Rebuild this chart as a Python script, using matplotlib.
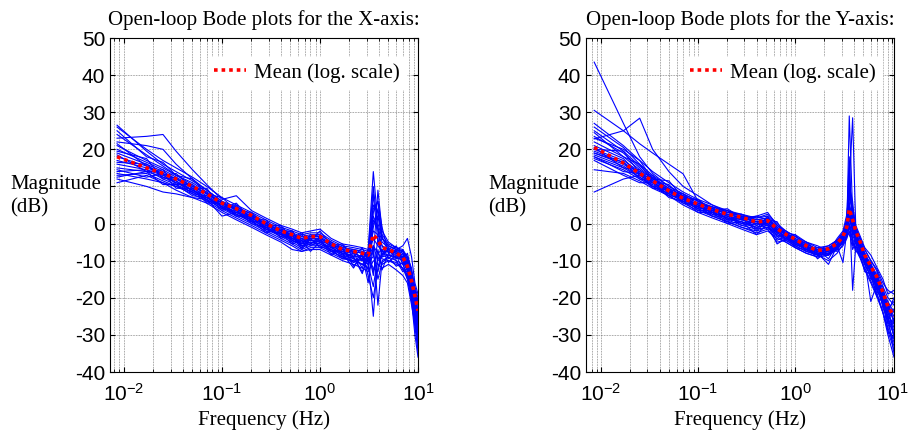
import matplotlib.pyplot as plt
from matplotlib.ticker import LogLocator, NullFormatter, MultipleLocator, FuncFormatter

plt.rcParams['font.family'] = ['Liberation Sans', 'DejaVu Sans']
plt.rcParams['axes.unicode_minus'] = False
serif = ['Liberation Serif', 'DejaVu Serif']

# frequency points (Hz) used for the X-axis runs
freq_x = [0.0085, 0.017, 0.025, 0.034, 0.05, 0.07, 0.1, 0.14, 0.2, 0.28, 0.4, 0.52, 0.65, 0.8, 1.0,
          1.3, 1.7, 2.2, 2.7, 3.1, 3.5, 3.9, 4.3, 5.0, 6.0, 7.0, 7.8, 8.6, 9.3, 10.0]

# magnitude of each X-axis run (dB)
runs_x = [
    [26.5, 19.5, 16.0, 14.0, 11.5, 9.0, 6.0, 4.5, 2.5, 0.5, -1.5, -2.5, -3.5, -3.0, -3.0, -5.0, -6.5, -7.0, -7.5, -8.0, 2.0, -1.0, -5.0, -6.5, -7.5, -8.5, -10.5, -15.0, -20.0, -24.0],
    [26.0, 20.0, 17.0, 15.0, 12.5, 10.0, 7.0, 5.0, 3.0, 1.0, -1.0, -2.0, -3.0, -2.5, -2.5, -4.5, -6.0, -6.5, -7.0, -7.5, 5.0, 3.0, -3.0, -5.5, -6.5, -7.5, -9.5, -13.0, -18.0, -21.0],
    [24.0, 18.5, 15.5, 13.0, 11.0, 8.5, 5.5, 4.0, 2.0, 0.0, -2.0, -3.0, -4.0, -3.5, -3.5, -5.5, -7.0, -7.5, -8.0, -9.0, -4.0, -6.0, -7.5, -7.5, -8.5, -9.5, -12.0, -16.0, -22.0, -28.0],
    [23.0, 23.5, 24.0, 19.5, 14.5, 10.5, 6.5, 7.5, 3.5, 1.5, -0.5, -1.5, -2.5, -2.0, -1.5, -4.0, -5.5, -6.0, -6.5, -7.0, 14.0, 0.0, -4.0, -6.0, -7.0, -8.0, -10.0, -14.0, -19.0, -22.0],
    [22.0, 21.0, 20.0, 16.0, 12.0, 9.0, 6.0, 3.5, 1.5, -0.5, -2.5, -3.5, -4.5, -4.0, -4.0, -6.0, -7.5, -8.0, -9.0, -10.0, -9.0, 9.0, -2.0, -5.0, -6.5, -7.0, -9.0, -13.0, -17.0, -20.0],
    [21.0, 17.0, 15.0, 13.0, 10.5, 8.0, 5.5, 4.0, 2.0, 0.0, -2.0, -3.5, -4.5, -4.0, -4.5, -6.0, -7.5, -9.0, -8.5, -16.0, -6.0, -10.0, -9.0, -8.5, -9.0, -10.0, -13.0, -18.0, -26.0, -33.0],
    [20.0, 16.5, 14.5, 12.5, 10.0, 8.0, 5.5, 3.5, 1.5, -0.5, -2.5, -4.0, -5.0, -4.5, -5.0, -6.5, -8.0, -8.5, -9.5, -10.0, -25.0, -8.0, -7.0, -7.5, -8.0, -9.0, -11.0, -15.0, -20.0, -25.0],
    [19.0, 16.0, 14.0, 12.0, 9.5, 7.5, 5.0, 3.0, 1.0, -1.0, -3.0, -4.5, -5.5, -5.0, -5.5, -7.0, -8.0, -12.0, -8.0, -9.5, -6.0, -22.0, -10.0, -9.0, -10.0, -11.0, -14.0, -19.0, -24.0, -30.0],
    [18.0, 15.5, 13.5, 11.5, 9.0, 7.0, 4.5, 2.5, 0.5, -1.5, -3.5, -5.0, -6.5, -5.5, -6.0, -7.5, -9.0, -10.0, -11.0, -12.0, 8.0, -5.0, -8.0, -8.5, -9.0, -10.0, -12.5, -17.0, -24.0, -35.0],
    [17.0, 15.0, 13.5, 12.0, 10.0, 8.0, 5.5, 4.0, 2.0, 0.0, -2.0, -3.0, -4.0, -3.5, -3.0, -5.0, -6.5, -7.0, -7.5, -8.5, -2.0, -3.0, -6.0, -7.0, -8.0, -9.0, -11.0, -15.0, -20.0, -23.0],
    [16.0, 14.5, 13.0, 11.0, 9.0, 7.0, 5.0, 3.0, 1.0, -1.0, -3.0, -4.0, -5.5, -4.5, -5.0, -6.5, -8.0, -9.0, -13.0, -9.0, -12.0, -13.0, -8.0, -7.5, -8.0, -9.0, -12.0, -16.0, -21.0, -27.0],
    [15.0, 14.0, 12.5, 11.0, 9.0, 7.0, 4.5, 2.5, 0.5, -1.5, -3.0, -4.5, -6.0, -5.0, -5.5, -7.0, -8.5, -9.5, -10.0, -11.0, 4.0, 6.0, -4.0, -6.0, -7.0, -6.0, -4.0, -9.0, -16.0, -19.0],
    [14.0, 14.5, 12.0, 10.5, 8.5, 6.5, 4.0, 2.0, 0.0, -2.0, -4.0, -5.5, -7.0, -6.0, -6.0, -7.5, -9.0, -10.5, -9.5, -11.0, -17.0, -9.0, -11.0, -10.0, -10.5, -12.0, -15.0, -21.0, -30.0, -36.0],
    [13.0, 13.5, 11.5, 10.0, 8.0, 6.0, 3.5, 1.5, -0.5, -2.5, -4.5, -6.0, -7.5, -6.5, -6.5, -8.0, -9.5, -10.0, -11.0, -12.0, -6.0, -8.0, -9.5, -10.0, -11.0, -12.0, -14.0, -19.0, -25.0, -30.0],
    [12.0, 10.0, 8.5, 8.0, 7.0, 5.5, 3.0, 1.0, -1.0, -3.0, -5.0, -7.0, -7.5, -7.0, -7.0, -8.5, -10.0, -11.0, -12.0, -13.0, -10.0, -11.0, -12.0, -11.0, -12.5, -14.0, -16.0, -22.0, -27.0, -32.0],
    [11.0, 13.0, 11.0, 10.0, 8.5, 6.5, 2.0, 3.0, 1.5, -0.5, -2.5, -4.0, -5.0, -4.0, -4.0, -5.5, -7.0, -7.5, -8.0, -8.5, 0.0, 2.0, -4.0, -6.0, -7.0, -7.5, -9.0, -12.0, -18.0, -21.0],
    [25.0, 18.0, 16.5, 13.0, 12.0, 8.0, 7.0, 3.5, 3.0, -0.5, -0.5, -4.0, -2.5, -4.5, -2.0, -6.0, -5.5, -9.0, -6.5, -10.0, 3.0, 6.0, -1.0, -8.0, -6.0, -10.0, -9.0, -17.0, -18.0, -26.0],
    [21.5, 15.5, 13.0, 13.5, 9.5, 9.5, 4.0, 5.5, 1.0, 1.0, -3.0, -2.0, -5.5, -3.0, -5.0, -5.0, -8.5, -7.0, -10.0, -7.0, -14.0, -4.0, -9.0, -6.5, -9.5, -8.0, -12.5, -14.0, -23.0, -29.0],
    [19.5, 17.5, 12.0, 12.5, 8.5, 8.5, 4.5, 4.5, 2.5, -1.0, -1.0, -4.5, -3.0, -5.5, -3.5, -6.5, -6.0, -8.0, -12.0, -7.5, 10.0, -2.0, -6.0, -9.5, -7.0, -11.0, -10.0, -16.0, -21.0, -24.0],
    [18.5, 14.0, 14.5, 10.5, 10.5, 6.0, 6.0, 2.0, 2.5, -1.5, -2.0, -2.0, -6.5, -3.5, -4.5, -7.5, -7.0, -10.5, -8.0, -14.0, -20.0, -12.0, -7.0, -10.5, -8.5, -12.5, -13.0, -20.0, -28.0, -34.0],
    [16.5, 16.0, 12.5, 11.5, 8.0, 7.5, 3.5, 5.0, 0.5, 0.5, -4.0, -3.0, -7.0, -4.0, -6.5, -6.0, -9.0, -8.0, -9.0, -12.5, -1.0, 4.0, -3.5, -8.0, -7.5, -9.5, -8.0, -13.0, -19.0, -22.0],
    [14.5, 12.5, 13.5, 9.5, 9.5, 5.5, 5.5, 2.5, 1.0, -2.5, -1.5, -5.0, -4.0, -6.0, -4.5, -7.5, -7.5, -9.5, -11.0, -9.0, -8.0, -15.0, -10.5, -9.0, -11.5, -10.5, -15.0, -18.0, -26.0, -31.0],
    [13.5, 12.0, 11.0, 9.0, 7.0, 6.5, 4.0, 3.5, 0.0, -1.0, -3.5, -3.0, -6.0, -5.5, -4.0, -8.5, -6.5, -11.5, -8.5, -10.5, 1.0, -1.5, -8.5, -7.0, -9.5, -7.0, -11.0, -14.5, -20.0, -27.0],
    [12.5, 14.0, 10.5, 10.5, 7.5, 7.0, 4.5, 2.0, 2.0, -2.0, -2.5, -5.5, -4.5, -7.5, -5.0, -7.0, -9.5, -9.0, -13.5, -8.5, -13.0, -7.0, -12.5, -8.0, -10.0, -13.0, -12.0, -21.0, -24.0, -33.0],
]
mean_x = [18.0, 15.0, 13.5, 12.0, 10.0, 8.0, 5.5, 4.0, 2.2, 0.0, -2.0, -3.0, -4.0, -3.5, -3.5,
          -5.5, -7.0, -7.5, -8.0, -8.5, -3.0, -4.5, -6.5, -7.0, -8.0, -9.0, -11.5, -15.5, -19.5, -23.5]

# frequency points (Hz) used for the Y-axis runs
freq_y = [0.0085, 0.017, 0.025, 0.034, 0.05, 0.07, 0.1, 0.14, 0.2, 0.28, 0.4, 0.52, 0.65, 0.8, 1.0,
          1.3, 1.7, 2.2, 2.7, 3.1, 3.4, 3.6, 3.9, 4.2, 4.6, 5.2, 6.0, 7.0, 8.0, 9.0, 10.4]

runs_y = [
    [43.5, 27.0, 18.0, 13.5, 10.0, 8.0, 6.0, 4.5, 3.0, 2.5, 1.0, 1.5, -1.0, -2.5, -4.0, -5.5, -7.0, -6.5, -5.0, -3.0, 0.0, 5.0, 2.0, -1.0, -4.0, -8.0, -11.0, -14.0, -18.0, -21.0, -24.0],
    [30.5, 25.0, 21.5, 19.0, 16.0, 13.4, 6.0, 4.0, 2.5, 1.5, 0.5, 1.0, -1.5, -3.0, -4.5, -6.0, -7.5, -7.0, -5.5, -3.5, -1.0, 29.0, 3.0, -2.0, -5.0, -8.5, -12.0, -15.0, -19.0, -22.0, -26.0],
    [27.0, 21.0, 17.0, 14.0, 11.0, 8.5, 6.5, 5.0, 3.5, 2.5, 1.5, 2.0, -0.5, -2.0, -3.5, -5.5, -7.0, -6.0, -4.5, -2.5, 0.5, 10.0, 28.5, -1.0, -3.5, -7.0, -10.0, -13.0, -17.0, -20.0, -22.0],
    [26.0, 20.5, 16.0, 13.0, 10.0, 8.0, 6.0, 4.0, 3.0, 2.0, 1.0, 1.5, -1.0, -3.0, -4.5, -6.5, -8.0, -11.0, -6.0, -4.0, -1.5, 15.0, 0.0, -4.0, -6.5, -9.5, -13.0, -16.5, -20.0, -24.0, -28.0],
    [25.0, 19.5, 15.5, 12.5, 9.5, 7.5, 5.5, 4.0, 2.5, 1.5, 0.5, 0.5, -2.0, -3.5, -5.0, -6.5, -8.0, -7.5, -6.0, -10.5, -2.0, 5.0, -18.0, -6.0, -8.0, -11.0, -14.0, -18.0, -22.0, -27.0, -32.0],
    [23.5, 19.0, 15.0, 12.0, 9.5, 7.5, 5.5, 4.5, 3.5, 2.0, 1.5, 2.5, 0.0, -2.0, -3.5, -5.0, -6.5, -6.0, -4.5, -2.5, 1.0, 8.0, 3.0, -1.5, -4.0, -7.0, -10.0, -12.5, -16.0, -18.0, -19.0],
    [22.8, 25.0, 28.4, 20.0, 14.0, 10.0, 7.5, 5.0, 3.0, 2.0, 0.5, 1.0, -1.5, -3.0, -4.5, -6.0, -7.5, -7.0, -5.5, -3.5, -0.5, 3.0, 0.5, -3.0, -5.5, -8.5, -12.0, -15.5, -19.0, -23.0, -26.0],
    [22.0, 18.0, 14.5, 12.0, 9.0, 7.0, 5.0, 3.5, 2.0, 1.0, 0.0, 0.5, -2.0, -3.5, -5.0, -6.5, -8.0, -8.5, -6.0, -4.0, -1.0, 2.0, -2.0, -5.0, -7.0, -10.0, -21.0, -16.0, -21.0, -25.0, -30.0],
    [20.0, 17.0, 14.0, 11.5, 9.0, 7.0, 5.0, 3.5, 2.0, 1.0, 0.0, 0.0, -2.5, -4.0, -5.5, -7.0, -8.5, -8.0, -6.5, -4.5, -1.5, 4.0, -1.0, -4.0, -6.0, -9.0, -12.5, -16.0, -20.0, -24.0, -29.0],
    [19.5, 16.5, 13.5, 11.0, 8.5, 6.5, 4.5, 3.0, 1.5, 0.5, -0.5, 0.5, -2.0, -3.5, -5.0, -6.5, -7.5, -7.0, -5.0, -3.0, 0.0, 3.0, 1.0, -2.5, -5.0, -8.0, -11.5, -15.0, -19.0, -22.0, -25.0],
    [19.0, 16.0, 13.0, 11.0, 8.5, 6.5, 4.5, 3.0, 1.5, 0.0, -1.0, 0.0, -2.5, -4.0, -5.5, -7.0, -8.0, -7.5, -6.0, -4.0, -2.0, 0.0, -3.0, -5.5, -7.5, -11.0, -14.5, -19.0, -24.0, -30.0, -36.0],
    [18.5, 15.5, 12.5, 10.5, 8.0, 6.0, 4.0, 2.5, 1.0, -0.5, -1.5, -1.0, -3.0, -4.5, -6.0, -7.5, -8.5, -8.0, -6.5, -4.5, -2.5, -3.0, -5.0, -7.0, -9.0, -12.5, -16.0, -20.0, -24.0, -28.0, -33.0],
    [18.0, 15.0, 12.5, 10.0, 8.0, 6.0, 4.0, 2.0, 0.5, -1.0, -2.0, -1.0, -3.5, -5.0, -6.5, -8.0, -9.0, -8.5, -7.0, -5.0, -3.0, 10.0, 6.0, -3.0, -6.0, -9.5, -13.0, -17.0, -21.0, -25.0, -27.0],
    [17.5, 14.5, 12.0, 10.0, 7.5, 5.5, 3.5, 2.0, 0.5, -1.0, -2.5, -1.5, -5.0, -4.5, -6.0, -7.5, -8.5, -8.0, -6.5, -4.5, -2.0, 1.0, -1.5, -4.5, -7.0, -10.0, -13.5, -17.5, -22.0, -26.0, -30.0],
    [14.5, 13.5, 11.5, 9.5, 7.5, 5.0, 3.0, 1.5, 0.0, -1.5, -3.0, -2.0, -4.0, -5.0, -6.5, -8.0, -9.0, -8.5, -7.0, -5.0, -3.5, -1.0, -4.0, -6.5, -8.5, -12.0, -15.5, -19.5, -24.0, -29.0, -34.0],
    [8.5, 12.0, 13.0, 11.0, 9.0, 6.5, 4.5, 3.0, 1.5, 0.5, -1.0, -0.5, -3.0, -4.0, -5.5, -7.0, -8.0, -7.5, -6.0, -4.0, -1.5, 2.0, -0.5, -3.5, -6.0, -9.0, -12.5, -16.0, -20.0, -23.0, -21.0],
    [24.5, 18.0, 16.0, 11.5, 10.5, 6.5, 6.5, 3.0, 3.5, 1.0, 2.0, 1.0, 0.5, -3.5, -3.0, -6.5, -6.5, -8.5, -4.5, -4.5, 1.5, 12.0, 1.5, -3.0, -5.0, -9.0, -10.5, -16.0, -17.0, -24.0, -20.0],
    [21.0, 17.5, 13.0, 12.5, 8.0, 7.5, 4.0, 4.0, 1.0, 2.0, -1.5, 2.0, -2.5, -2.5, -5.5, -5.5, -8.5, -6.5, -7.0, -3.0, -1.0, 6.0, -3.0, -2.0, -7.5, -8.0, -13.5, -13.0, -21.5, -22.0, -31.0],
    [20.5, 15.0, 14.5, 10.0, 9.5, 6.0, 5.5, 2.5, 2.5, 0.0, 0.5, -1.5, -1.5, -4.5, -4.0, -7.5, -7.0, -9.5, -5.5, -5.5, 2.0, 18.0, -6.0, -4.0, -5.5, -10.5, -11.0, -17.5, -18.5, -26.0, -23.0],
    [19.0, 16.5, 12.0, 11.5, 7.5, 7.0, 3.5, 3.5, 0.5, 1.5, -2.0, 1.0, -3.5, -3.0, -6.0, -6.0, -9.5, -7.0, -7.5, -6.0, -4.0, -2.0, -7.0, -5.0, -9.0, -9.5, -15.0, -14.5, -23.0, -25.0, -35.0],
    [18.0, 14.0, 13.5, 9.5, 9.0, 5.5, 5.0, 2.0, 2.0, -0.5, 0.0, -0.5, -5.5, -4.0, -5.0, -7.0, -7.5, -8.0, -6.0, -5.0, 0.5, 7.0, 4.0, -4.5, -6.5, -11.0, -12.0, -18.5, -20.0, -27.0, -26.0],
    [17.0, 13.0, 11.0, 11.0, 7.0, 6.0, 3.0, 3.0, 0.0, 0.5, -3.0, 0.0, -4.5, -3.5, -6.5, -7.0, -8.5, -10.0, -8.0, -5.5, -3.5, -0.5, -5.0, -7.5, -8.0, -13.0, -13.5, -20.0, -21.0, -29.0, -31.0],
    [23.0, 20.0, 17.0, 12.0, 11.5, 7.0, 6.5, 3.5, 4.0, 1.5, 2.0, 3.0, -0.5, -2.5, -3.0, -5.0, -6.0, -7.5, -4.0, -2.0, 2.5, 9.0, 4.5, -0.5, -3.0, -6.5, -8.5, -12.0, -15.0, -19.0, -18.0],
    [20.0, 19.5, 13.5, 13.0, 8.5, 8.0, 4.5, 4.5, 1.0, 2.5, -0.5, 1.5, -1.5, -2.0, -5.0, -5.0, -7.5, -6.5, -5.0, -3.5, 0.0, 2.5, -0.5, -4.0, -5.0, -9.0, -12.0, -14.0, -19.5, -21.0, -27.0],
]
mean_y = [20.5, 16.3, 13.5, 11.5, 8.8, 6.8, 5.2, 3.8, 2.5, 1.7, 0.4, 0.8, -1.4, -2.9, -4.2, -6.0,
          -7.3, -6.8, -5.4, -3.5, -0.8, 3.9, 1.0, -2.0, -4.5, -8.5, -11.5, -14.6, -18.5, -22.3, -25.0]

panels = [
    ('Open-loop Bode plots for the X-axis:', freq_x, runs_x, mean_x, (0.0072, 10.0)),
    ('Open-loop Bode plots for the Y-axis:', freq_y, runs_y, mean_y, (0.0070, 10.4)),
]
axes_pos = [[110/911, 62/434, 308/911, 334/434], [586/911, 62/434, 308/911, 334/434]]
label_x = [10/911, 488/911]


def ylab(v, pos):
    # the "10" label sits under the Magnitude text in the original
    return '' if v == 10 else '%d' % v


fig = plt.figure(figsize=(9.11, 4.34), dpi=100)
for i, (title, f, runs, mean, xl) in enumerate(panels):
    ax = fig.add_axes(axes_pos[i])
    for r in runs:
        ax.plot(f, r, color='#0000ff', lw=0.8)
    ax.plot(f, mean, color='red', lw=2.6, linestyle=(0, (1, 1.1)), label='Mean (log. scale)')
    ax.set_xscale('log')
    ax.set_xlim(xl)
    ax.set_ylim(-40, 50)
    ax.yaxis.set_major_locator(MultipleLocator(10))
    ax.yaxis.set_major_formatter(FuncFormatter(ylab))
    ax.xaxis.set_major_locator(LogLocator(base=10))
    ax.xaxis.set_minor_locator(LogLocator(base=10, subs=range(2, 10)))
    ax.xaxis.set_minor_formatter(NullFormatter())
    ax.grid(True, which='both', color='0.35', lw=0.5, linestyle=(0, (1, 1.3)))
    ax.tick_params(which='both', direction='in', top=True, right=True, labelsize=15)
    ax.tick_params(axis='x', pad=8)
    ax.set_title(title, fontsize=15, family=serif, pad=9)
    ax.set_xlabel('Frequency (Hz)', fontsize=15, family=serif, labelpad=4)
    fig.text(label_x[i], 0.548, 'Magnitude\n(dB)', fontsize=15, family=serif,
             ha='left', va='center', linespacing=1.3)
    leg = ax.legend(loc='upper right', bbox_to_anchor=(0.995, 0.975),
                    prop={'family': serif, 'size': 15}, handlelength=1.5, handletextpad=0.4,
                    framealpha=1, edgecolor='white', fancybox=False, borderpad=0.3)

fig.savefig('out.png', dpi=100)
